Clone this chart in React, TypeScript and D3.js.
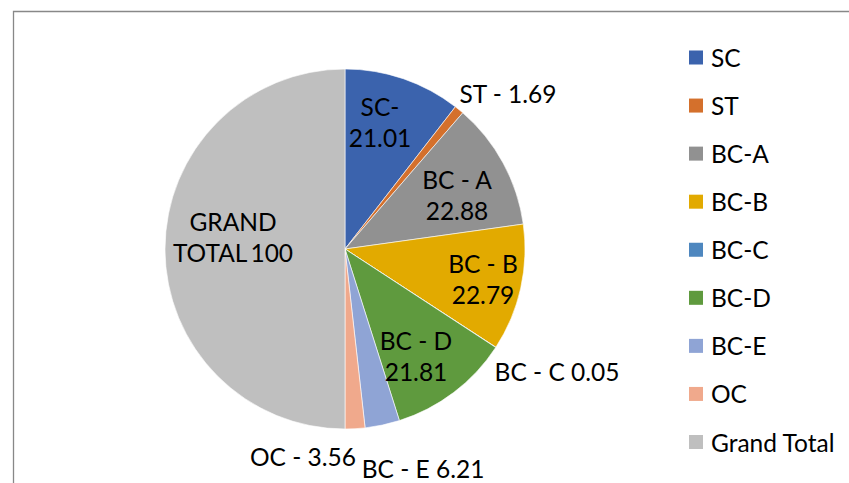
import React from "react";
import * as d3 from "d3";

const categories = ["SC", "ST", "BC-A", "BC-B", "BC-C", "BC-D", "BC-E", "OC", "Grand Total"];
const values = [21.01, 1.69, 22.88, 22.79, 0.05, 21.81, 6.21, 3.56, 100];
const labelNames = ["SC-", "ST -", "BC - A", "BC - B", "BC - C", "BC - D", "BC - E", "OC -", "GRAND TOTAL"];
const colors = ["#3B63AD", "#D4702C", "#919191", "#E2AA00", "#4E87BF", "#5F9A3E", "#8FA4D5", "#F0A98C", "#BFBFBF"];

// label layout: line split and centre offset relative to pie centre
const labelLayout: { lines: (n: string, v: string) => string[]; x: number; y: number }[] = [
  { lines: (n, v) => [n, v], x: 35, y: -127 },
  { lines: (n, v) => [`${n} ${v}`], x: 163, y: -156 },
  { lines: (n, v) => [n, v], x: 112, y: -54 },
  { lines: (n, v) => [n, v], x: 138, y: 30 },
  { lines: (n, v) => [`${n} ${v}`], x: 212, y: 122 },
  { lines: (n, v) => [n, v], x: 71, y: 107 },
  { lines: (n, v) => [`${n} ${v}`], x: 78, y: 219 },
  { lines: (n, v) => [`${n} ${v}`], x: -42, y: 207 },
  { lines: (n, v) => ["GRAND", `TOTAL\u2009${v}`], x: -112, y: -12 },
];

const W = 849;
const H = 483;
const cx = 345;
const cy = 249;
const R = 180;
const FONT = "Lato, 'Open Sans', sans-serif";
const FS = 24.5;
const LINE = 31;

export default function App() {
  const pie = d3.pie<number>().sort(null).value((d) => d);
  const arcs = pie(values);
  const arc = d3.arc<d3.PieArcDatum<number>>().innerRadius(0).outerRadius(R);

  const legendY = d3.scalePoint<string>().domain(categories).range([57.5, 442]);

  const fmt = (v: number) => (Number.isInteger(v) ? String(v) : v.toFixed(2));

  return (
    <svg
      width={W}
      height={H}
      style={{ position: "absolute", left: 0, top: 0, background: "#fff" }}
      fontFamily={FONT}
    >
      <rect x={0} y={0} width={W} height={H} fill="#fff" />
      <path d={`M13.5,${H} V11.5 H${W}`} fill="none" stroke="#888" strokeWidth={1.3} />
      <g transform={`translate(${cx},${cy})`}>
        {arcs.map((a, i) => (
          <path key={i} d={arc(a) || ""} fill={colors[i]} stroke="#fff" strokeWidth={0.6} />
        ))}
        {arcs.map((a, i) => {
          const L = labelLayout[i];
          const lines = L.lines(labelNames[i], fmt(values[i]));
          const y0 = L.y - ((lines.length - 1) * LINE) / 2;
          return (
            <text key={i} textAnchor="middle" fontSize={FS} fill="#000">
              {lines.map((t, j) => (
                <tspan key={j} x={L.x} y={y0 + j * LINE} dominantBaseline="central">
                  {t}
                </tspan>
              ))}
            </text>
          );
        })}
      </g>
      <g>
        {categories.map((c, i) => {
          const y = legendY(c) as number;
          return (
            <g key={c}>
              <rect x={689} y={y - 7} width={14} height={14} fill={colors[i]} />
              <text x={711} y={y} dominantBaseline="central" fontSize={FS} fill="#000">
                {c}
              </text>
            </g>
          );
        })}
      </g>
    </svg>
  );
}
